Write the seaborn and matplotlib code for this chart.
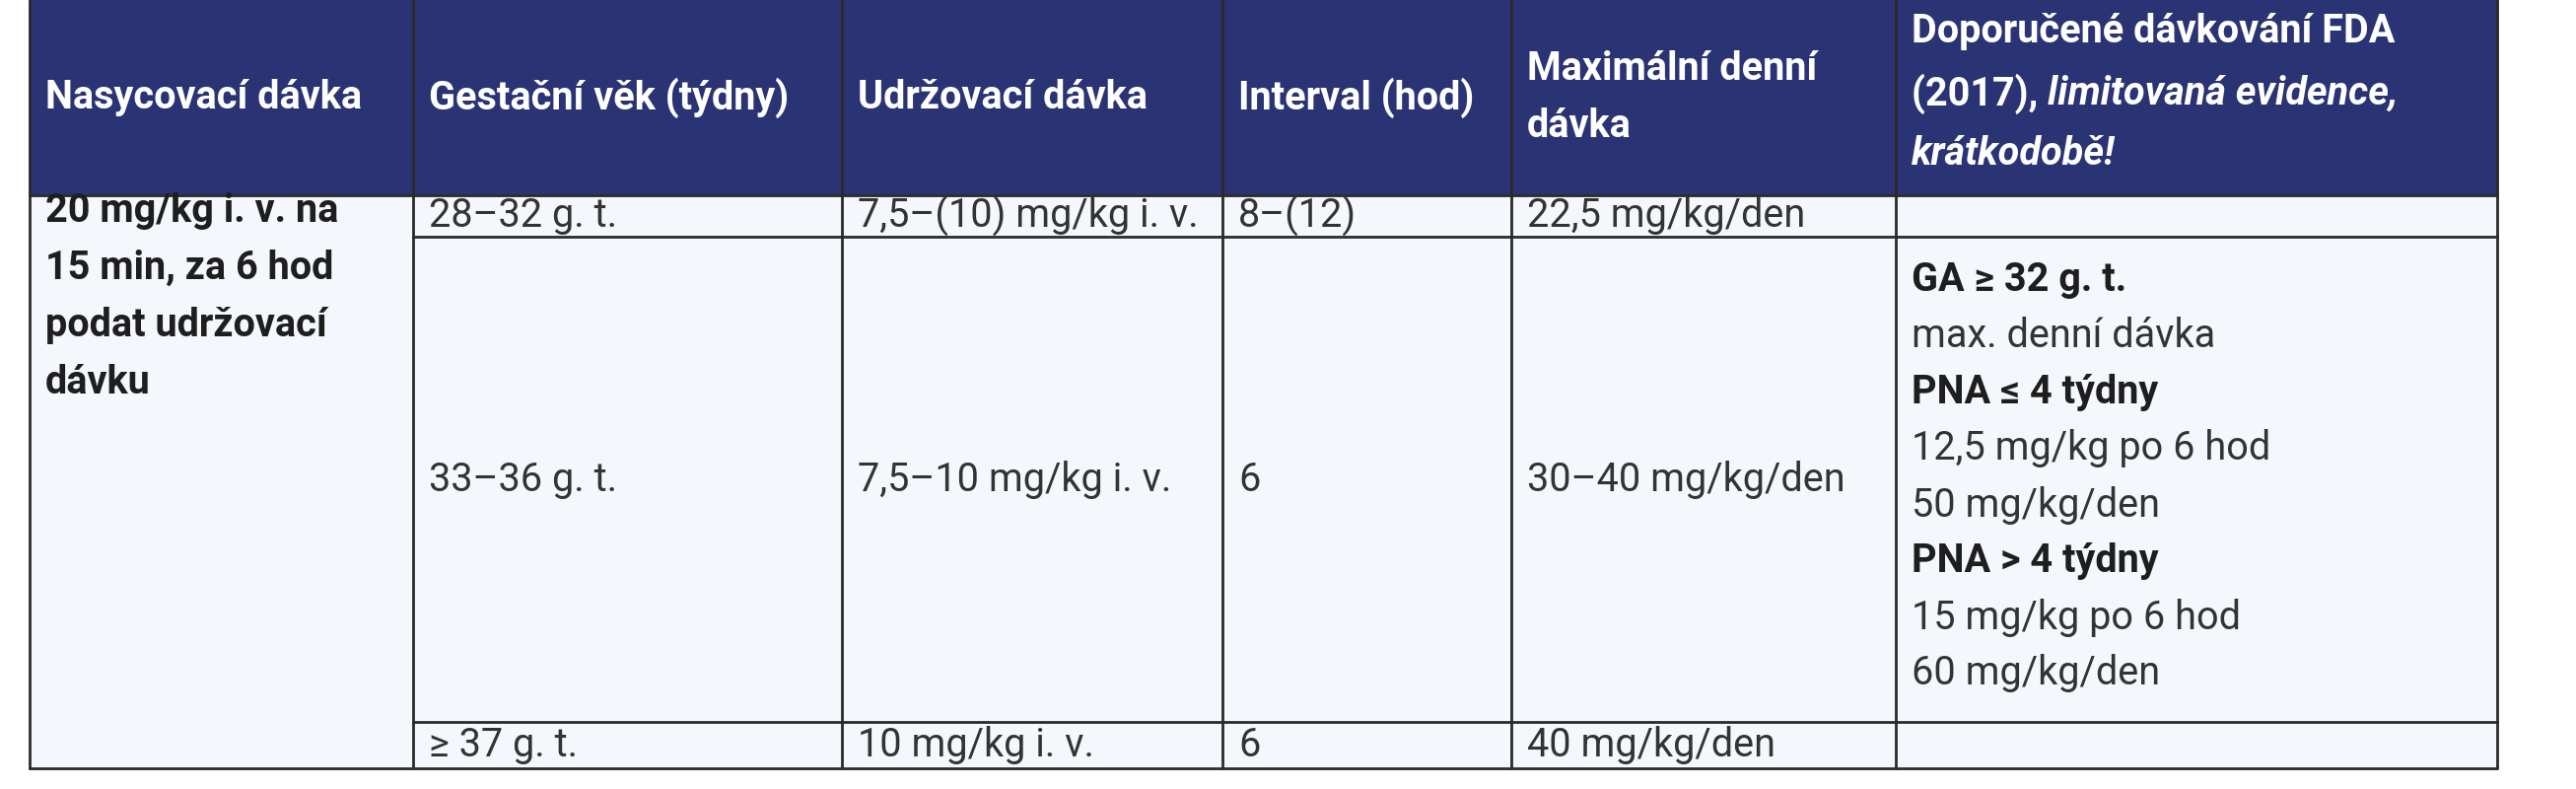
import matplotlib
matplotlib.use("Agg")
import matplotlib.pyplot as plt
import seaborn as sns
from matplotlib.patches import Rectangle

sns.set_theme(style="white")
plt.rcParams['font.family'] = ['Roboto', 'DejaVu Sans']

headers = [
    ["Nasycovací dávka"],
    ["Gestační věk (týdny)"],
    ["Udržovací dávka"],
    ["Interval (hod)"],
    ["Maximální denní", "dávka"],
    None,
]
loading = ["20 mg/kg i. v. na", "15 min, za 6 hod", "podat udržovací", "dávku"]
ages = ["28–32 g. t.", "33–36 g. t.", "≥ 37 g. t."]
maint = ["7,5–(10) mg/kg i. v.", "7,5–10 mg/kg i. v.", "10 mg/kg i. v."]
interval = ["8–(12)", "6", "6"]
maxday = ["22,5 mg/kg/den", "30–40 mg/kg/den", "40 mg/kg/den"]
fda_lines = [("GA ≥ 32 g. t.", True), ("max. denní dávka", False),
             ("PNA ≤ 4 týdny", True), ("12,5 mg/kg po 6 hod", False),
             ("50 mg/kg/den", False), ("PNA > 4 týdny", True),
             ("15 mg/kg po 6 hod", False), ("60 mg/kg/den", False)]

W, H = 2613, 800
fig = plt.figure(figsize=(W/100, H/100), dpi=100)
ax = fig.add_axes([0, 0, 1, 1])
ax.set_xlim(0, W); ax.set_ylim(H, 0); ax.axis("off")

cols = [30, 419, 854, 1240, 1533, 1923, 2533]
rows = [0, 198, 240, 732, 779]
navy = "#2a3474"; body = "#f4f8fc"; line = "#2a2a2a"
fs = 28.5
pad = 16

ax.add_patch(Rectangle((cols[0], rows[0]), cols[-1]-cols[0], rows[1]-rows[0], color=navy, zorder=0))
ax.add_patch(Rectangle((cols[0], rows[1]), cols[-1]-cols[0], rows[-1]-rows[1], color=body, zorder=0))

lw = 2
for x in cols:
    ax.plot([x, x], [rows[0], rows[-1]], color=line, lw=lw)
ax.plot([cols[0], cols[-1]], [rows[1], rows[1]], color=line, lw=lw)
ax.plot([cols[0], cols[-1]], [rows[-1], rows[-1]], color=line, lw=lw)
for r in rows[2:4]:
    ax.plot([cols[1], cols[-1]], [r, r], color=line, lw=lw)

for i, h in enumerate(headers):
    if h is None:
        continue
    n = len(h)
    for j, t in enumerate(h):
        y = (rows[0]+rows[1])/2 + (j-(n-1)/2)*58
        ax.text(cols[i]+pad, y, t, color="white", fontsize=fs, fontweight="bold", va="center")
hx = cols[5]+pad
ax.text(hx, 32, "Doporučené dávkování FDA", color="white", fontsize=fs, fontweight="bold", va="center")
t1 = ax.text(hx, 95, "(2017), ", color="white", fontsize=fs, fontweight="bold", va="center")
fig.canvas.draw()
bb = t1.get_window_extent()
ax.text(hx + bb.width, 95, "limitovaná evidence,", color="white",
        fontsize=fs, fontweight="bold", style="italic", va="center")
ax.text(hx, 156, "krátkodobě!", color="white", fontsize=fs, fontweight="bold", style="italic", va="center")

txt = "#333333"
for j, t in enumerate(loading):
    ax.text(cols[0]+pad, 214 + j*58, t, color="#1e1e1e", fontsize=fs, fontweight="bold", va="center")
ys = [(rows[1]+rows[2])/2, (rows[2]+rows[3])/2, (rows[3]+rows[4])/2]
for k in range(3):
    for c, arr in zip(range(1, 5), [ages, maint, interval, maxday]):
        ax.text(cols[c]+pad, ys[k], arr[k], color=txt, fontsize=fs, va="center")
for j, (t, b) in enumerate(fda_lines):
    ax.text(cols[5]+pad, 284 + j*57, t, color="#1e1e1e" if b else txt, fontsize=fs,
            fontweight="bold" if b else "normal", va="center")

fig.savefig("out.png", dpi=100, facecolor="white")
